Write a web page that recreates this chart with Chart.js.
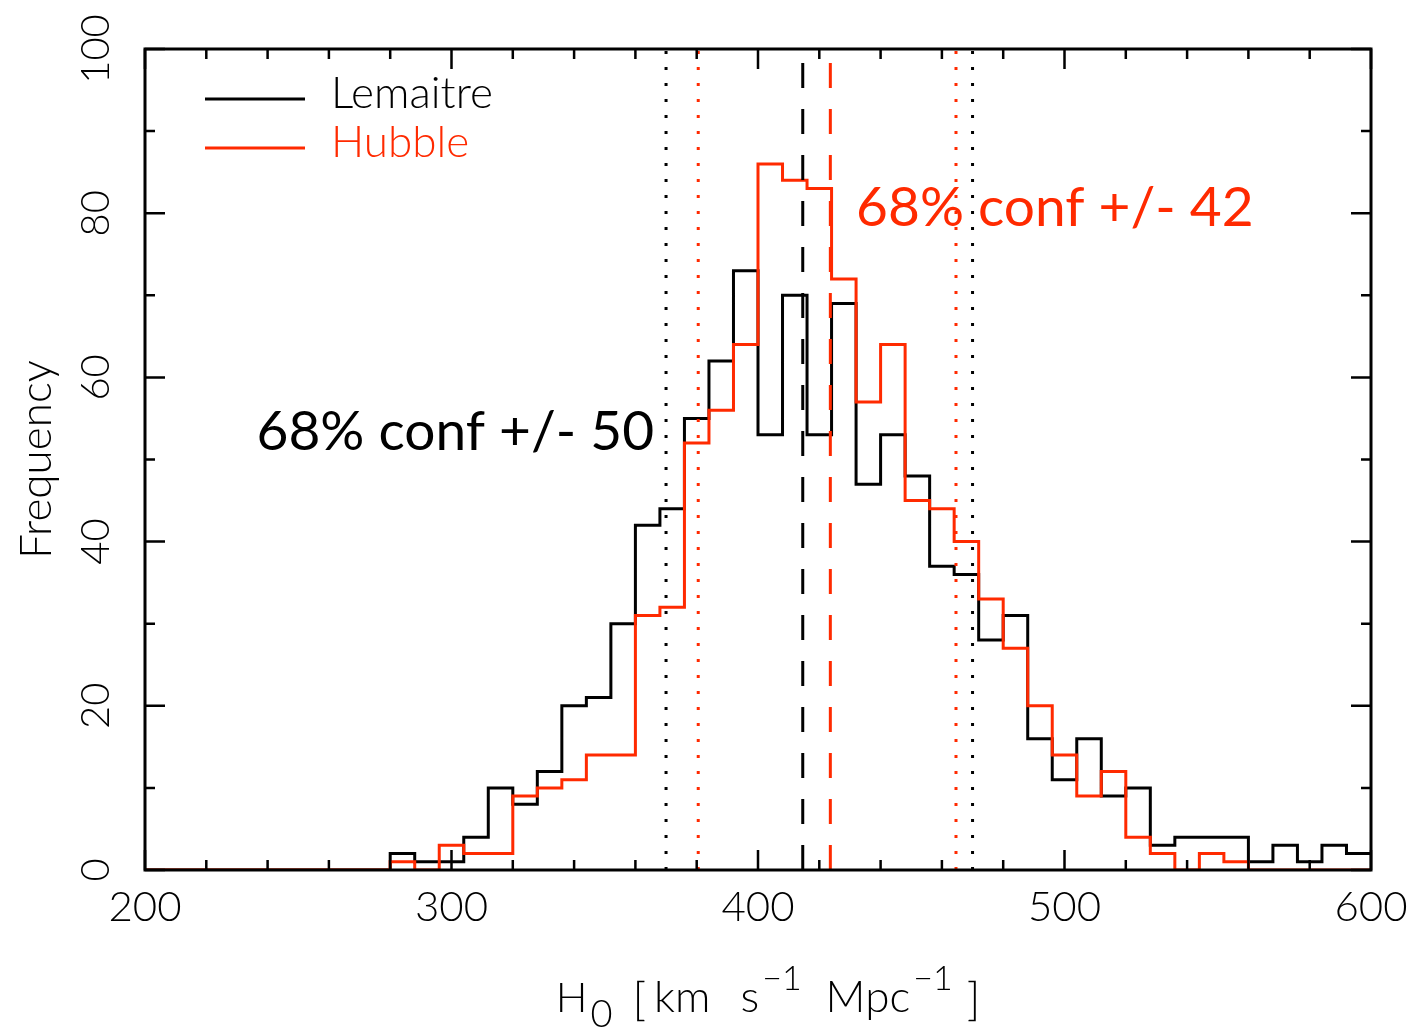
<!DOCTYPE html>
<html>
<head>
<meta charset="utf-8">
<script src="https://cdn.jsdelivr.net/npm/chart.js@4.4.1/dist/chart.umd.min.js"></script>
<style>
  html, body { margin: 0; padding: 0; background: #fff; overflow: hidden; }
</style>
</head>
<body>
<canvas id="chart" width="1414" height="1028"></canvas>
<script>
// histogram bins: 200 -> 600, width 8
const binStart = 200;
const binWidth = 8;
const numBins = 50;

const lemaitreCounts = [
    0, 0, 0, 0, 0, 0, 0, 0, 0, 0,
    2, 1, 1, 4, 10, 8, 12, 20, 21, 30,
    42, 44, 55, 62, 73, 53, 70, 53, 69, 47,
    53, 48, 37, 36, 28, 31, 16, 11, 16, 9,
    10, 3, 4, 4, 4, 1, 3, 1, 3, 2
];
const hubbleCounts = [
    0, 0, 0, 0, 0, 0, 0, 0, 0, 0,
    1, 0, 3, 2, 2, 9, 10, 11, 14, 14,
    31, 32, 52, 56, 64, 86, 84, 83, 72, 57,
    64, 45, 44, 40, 33, 27, 20, 14, 9, 12,
    4, 2, 0, 2, 1, 0, 0, 0, 0, 0
];

const lemaitreMedian = 414.6;
const lemaitreConf = [370, 470];
const hubbleMedian = 423.6;
const hubbleConf = [380.5, 464.6];

const seriesLabels = ['Lemaitre', 'Hubble'];
const confLabels = ['68% conf +/- 50', '68% conf +/- 42'];

const RED = '#ff2a00';
const BLACK = '#000000';
const FONT = 'Lato, "DejaVu Sans", sans-serif';

// step outline: point at every bin left edge, plus the right edge of the last bin
const toSteps = (counts) => {
    let pts = [];
    for (let i = 0; i <= numBins; i++) {
        pts.push({x: binStart + i * binWidth, y: counts[Math.min(i, numBins - 1)]});
    }
    return pts;
}

const vline = (xv) => [{x: xv, y: 0}, {x: xv, y: 100}];

const lineDs = (xv, color, dash, order) => ({
    data: vline(xv),
    borderColor: color,
    borderWidth: 3,
    borderDash: dash,
    pointRadius: 0,
    order: order
});

const DOT = [3, 13];
const DASH = [25, 21];

// frame, inner ticks, legend, annotations and x title
const decor = {
    id: 'decor',
    afterDraw(chart) {
        const ctx = chart.ctx;
        const a = chart.chartArea;
        const xs = chart.scales.x;
        const ys = chart.scales.y;
        ctx.save();
        ctx.strokeStyle = BLACK;
        ctx.lineWidth = 3;
        ctx.lineCap = 'butt';
        ctx.strokeRect(a.left, a.top, a.right - a.left, a.bottom - a.top);

        ctx.lineWidth = 2.5;
        ctx.beginPath();
        for (let v = xs.min; v <= xs.max; v += 20) {
            const px = xs.getPixelForValue(v);
            const len = (v % 100 === 0) ? 20 : 10;
            ctx.moveTo(px, a.bottom); ctx.lineTo(px, a.bottom - len);
            ctx.moveTo(px, a.top); ctx.lineTo(px, a.top + len);
        }
        for (let v = ys.min; v <= ys.max; v += 10) {
            const py = ys.getPixelForValue(v);
            const len = (v % 20 === 0) ? 20 : 10;
            ctx.moveTo(a.left, py); ctx.lineTo(a.left + len, py);
            ctx.moveTo(a.right, py); ctx.lineTo(a.right - len, py);
        }
        ctx.stroke();

        // legend
        const colors = [BLACK, RED];
        ctx.font = '300 44px ' + FONT;
        ctx.textBaseline = 'alphabetic';
        ctx.textAlign = 'left';
        for (let i = 0; i < 2; i++) {
            const ly = 99 + i * 49;
            ctx.strokeStyle = colors[i];
            ctx.lineWidth = 3;
            ctx.beginPath();
            ctx.moveTo(205, ly); ctx.lineTo(305, ly);
            ctx.stroke();
            ctx.fillStyle = colors[i];
            ctx.fillText(seriesLabels[i], 331, ly + 9);
        }

        // confidence labels
        ctx.font = '400 55px ' + FONT;
        ctx.fillStyle = BLACK;
        ctx.fillText(confLabels[0], xs.getPixelForValue(236.4), ys.getPixelForValue(51.1));
        ctx.fillStyle = RED;
        ctx.fillText(confLabels[1], xs.getPixelForValue(432), ys.getPixelForValue(78.5));

        // x axis title with sub/superscripts, laid out piece by piece
        const runs = [
            {t: 'H', s: 42, dy: 0, gap: 0},
            {t: '0', s: 38, dy: 15, gap: 3},
            {t: '[', s: 46, dy: 3, gap: 20},
            {t: 'km', s: 44, dy: 0, gap: 8},
            {t: 's', s: 44, dy: 0, gap: 30},
            {t: '\u22121', s: 34, dy: -22, gap: 3},
            {t: 'Mpc', s: 44, dy: 0, gap: 24},
            {t: '\u22121', s: 34, dy: -22, gap: 3},
            {t: ']', s: 46, dy: 3, gap: 14}
        ];
        let total = 0;
        runs.forEach(r => {
            ctx.font = '300 ' + r.s + 'px ' + FONT;
            r.w = ctx.measureText(r.t).width;
            total += r.w + r.gap;
        });
        let tx = 768 - total / 2;
        ctx.fillStyle = BLACK;
        runs.forEach(r => {
            tx += r.gap;
            ctx.font = '300 ' + r.s + 'px ' + FONT;
            ctx.fillText(r.t, tx, 1012 + r.dy);
            tx += r.w;
        });
        ctx.restore();
    }
};

const config = {
    type: 'line',
    data: {
        datasets: [
            {
                label: seriesLabels[1],
                data: toSteps(hubbleCounts),
                borderColor: RED,
                borderWidth: 3,
                stepped: true,
                pointRadius: 0,
                order: 1
            },
            {
                label: seriesLabels[0],
                data: toSteps(lemaitreCounts),
                borderColor: BLACK,
                borderWidth: 3,
                stepped: true,
                pointRadius: 0,
                order: 2
            },
            lineDs(lemaitreConf[0], BLACK, DOT, 0),
            lineDs(lemaitreConf[1], BLACK, DOT, 0),
            lineDs(lemaitreMedian, BLACK, DASH, 0),
            lineDs(hubbleConf[0], RED, DOT, 0),
            lineDs(hubbleConf[1], RED, DOT, 0),
            lineDs(hubbleMedian, RED, DASH, 0)
        ]
    },
    options: {
        responsive: false,
        animation: false,
        devicePixelRatio: 1,
        layout: { padding: { top: 49, right: 43, left: 0, bottom: 0 } },
        plugins: {
            legend: { display: false },
            tooltip: { enabled: false }
        },
        scales: {
            x: {
                type: 'linear',
                min: 200,
                max: 600,
                grid: { display: false, drawTicks: false },
                border: { display: false },
                ticks: {
                    stepSize: 100,
                    color: BLACK,
                    padding: 12,
                    maxRotation: 0,
                    font: { family: FONT, size: 42, weight: 300 }
                },
                afterFit: (s) => {
                    s.height = 158;
                    s.paddingLeft = 0;
                    s.paddingRight = 0;
                }
            },
            y: {
                min: 0,
                max: 100,
                grid: { display: false, drawTicks: false },
                border: { display: false },
                ticks: {
                    stepSize: 20,
                    color: BLACK,
                    minRotation: 90,
                    maxRotation: 90,
                    crossAlign: 'center',
                    padding: 14,
                    font: { family: FONT, size: 40, weight: 300 }
                },
                title: {
                    display: true,
                    text: 'Frequency',
                    color: BLACK,
                    padding: { top: 10, bottom: 0 },
                    font: { family: FONT, size: 44, weight: 300 }
                },
                afterFit: (s) => { s.width = 145; }
            }
        }
    },
    plugins: [decor]
};

let chart = new Chart(document.getElementById('chart').getContext('2d'), config);
</script>
</body>
</html>
